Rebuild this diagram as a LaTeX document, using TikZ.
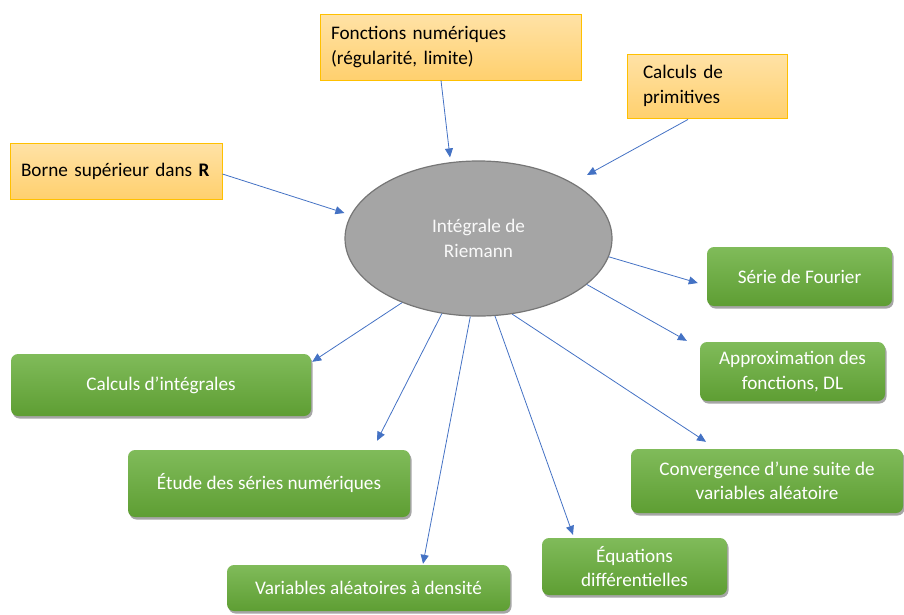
\documentclass[tikz,border=0pt]{standalone}
\usepackage{fontspec}
\setmainfont{Carlito}
\usepackage{tikz}
\usepackage{xcolor}
\usetikzlibrary{shapes,arrows,arrows.meta,shadows}
\definecolor{linkblue}{HTML}{4472C4}
\definecolor{goldline}{HTML}{FFC000}
\definecolor{goldtop}{HTML}{FFE2A6}
\definecolor{goldbot}{HTML}{FFD06E}
\definecolor{greentop}{HTML}{80BB5A}
\definecolor{greenbot}{HTML}{5E9E33}
\definecolor{coregray}{HTML}{A5A5A5}
\definecolor{coreline}{HTML}{767676}
\tikzstyle{line} = [draw=linkblue, line width=0.8pt, -{Triangle[length=9pt,width=8pt]}]
\tikzstyle{source} = [draw=goldline, line width=0.9pt, top color=goldtop, bottom color=goldbot, align=left, inner ysep=0pt, text=black]
\tikzstyle{topic} = [rounded corners=7pt, top color=greentop, bottom color=greenbot, text=white, align=center, inner sep=0pt, drop shadow={shadow xshift=1.5pt, shadow yshift=-2.5pt, opacity=0.35, fill=black}]
\tikzstyle{core} = [ellipse, draw=coreline, line width=1.2pt, fill=coregray, minimum width=267pt, minimum height=155pt, inner sep=0pt, align=center, text=gray!5]

\begin{document}
\begin{tikzpicture}[x=1pt, y=-1pt, font=\fontsize{19.2}{24.5}\selectfont]
    \useasboundingbox (0,0) rectangle (904,614);
    % Place nodes
    \node [core] (riem) at (478.5,238.5) {Intégrale de\\Riemann};

    \node [source, text width=239pt, inner xsep=11pt, minimum height=66pt] (fonc) at (450.5,47) {Fonctions numériques\\(régularité, limite)};
    \node [source, text width=128pt, inner xsep=16pt, minimum height=64pt] (prim) at (707,86) {Calculs de\\primitives};
    \node [source, text width=198pt, inner xsep=7pt, minimum height=56pt] (borne) at (116,171) {\hspace*{4pt}Borne supérieur dans \textbf{R}};

    \node [topic, minimum width=185pt, minimum height=59pt] (serie) at (799.5,276.5) {Série de Fourier};
    \node [topic, minimum width=185pt, minimum height=59pt] (approx) at (792.5,371.5) {Approximation des\\fonctions, DL};
    \node [topic, minimum width=272pt, minimum height=64pt] (conv) at (767,481) {Convergence d’une suite de\\variables aléatoire};
    \node [topic, minimum width=185pt, minimum height=57pt] (equ) at (634.5,566.5) {Équations\\différentielles};
    \node [topic, minimum width=283pt, minimum height=46pt] (var) at (368.5,588) {Variables aléatoires à densité};
    \node [topic, minimum width=282pt, minimum height=67pt] (etude) at (269,483.5) {Étude des séries numériques};
    \node [topic, minimum width=300pt, minimum height=62pt] (calcint) at (161,385) {Calculs d’intégrales};

    % Draw edges
    \path [line] ([shift={(-9.5,0)}]fonc.south) -- ([shift={(-28.5,-3)}]riem.north);
    \path [line] ([shift={(-19,1)}]prim.south) -- ([shift={(108.5,-63.5)}]riem.center);
    \path [line] ([shift={(0,3)}]borne.east) -- ([shift={(0,-25.5)}]riem.west);

    \path [line] (riem.-8.7) -- ([shift={(-9,6.5)}]serie.west);
    \path [line] (riem.-23.7) -- ([shift={(-13,-1)}]approx.north west);
    \path [line] (riem.-66) -- ([shift={(-61,-7)}]conv.north);
    \path [line] (riem.-78.7) -- ([shift={(-61.5,-3)}]equ.north);
    \path [line] (riem.-96.3) -- ([shift={(54.5,-1)}]var.north);
    \path [line] (riem.-116.4) -- ([shift={(108,-9)}]etude.north);
    \path [line] (riem.-140.9) -- ([shift={(1,8)}]calcint.north east);

\end{tikzpicture}
\end{document}
